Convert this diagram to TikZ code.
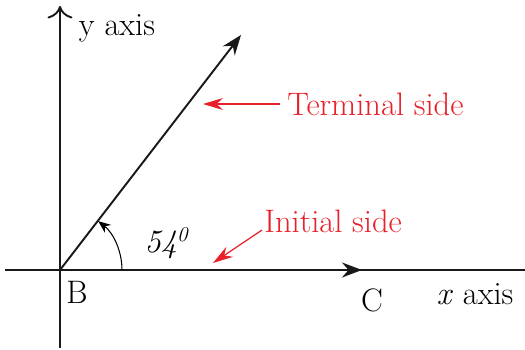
\documentclass[tikz,border=0pt]{standalone}
\usetikzlibrary{arrows.meta,positioning}

\definecolor{labelred}{RGB}{232,32,42}

\begin{document}
\begin{tikzpicture}[
    axis/.style={line width=1.1pt, black!90},
    side/.style={-{Stealth[length=4mm, width=3mm]}, line width=1.1pt, black!90},
    pointer/.style={-{Stealth[length=4mm, width=2.4mm]}, labelred, line width=0.7pt},
    redlabel/.style={text=labelred, font=\fontsize{18.5}{22}\selectfont, inner sep=0pt},
    label/.style={font=\fontsize{18.5}{22}\selectfont, inner sep=0pt}
]
\useasboundingbox (-1.2,-1.58) rectangle (9.3,5.4);

% Axes
\coordinate (B) at (0,0);
\coordinate (xleft) at (-1.1,0);
\coordinate (xright) at (9.3,0);
\coordinate (ybot) at (0,-1.56);
\coordinate (ytop) at (0,5.28);
\draw[axis] (xleft) -- (xright);
\draw[axis, -{To[length=2.5mm, width=5mm]}] (ybot) -- (ytop);

% Sides of the angle
\coordinate (C) at (6.04,0);
\coordinate (T) at (3.62,4.7);
\draw[side] (B) -- (C);
\draw[side] (B) -- (T);

% Angle mark
\draw[-{Stealth[length=2.5mm, width=2mm]}, line width=0.6pt] (1.24,0) arc (0:52:1.24);
\node[label] (angle) at (2.16,0.54) {\itshape 54$^{\mathit{0}}$};

% Labels
\node[label] (ylab) at (1.14,4.84) {y axis};
\node[label] (Blab) at (0.34,-0.44) {B};
\node[label] (Clab) at (6.24,-0.6) {C};
\node[label] (xlab) at (8.3,-0.48) {\textit{x} axis};

% Pointers
\node[redlabel, anchor=west] (terminal) at (4.54,3.32) {Terminal side};
\node[redlabel, anchor=west] (initial) at (4.08,0.98) {Initial side};
\coordinate (tend) at (2.86,3.32);
\coordinate (iend) at (3.06,0.14);
\draw[pointer] ([xshift=-0.14cm]terminal.west) -- (tend);
\draw[pointer] ([shift={(-0.04cm,-0.18cm)}]initial.west) -- (iend);

\end{tikzpicture}
\end{document}
